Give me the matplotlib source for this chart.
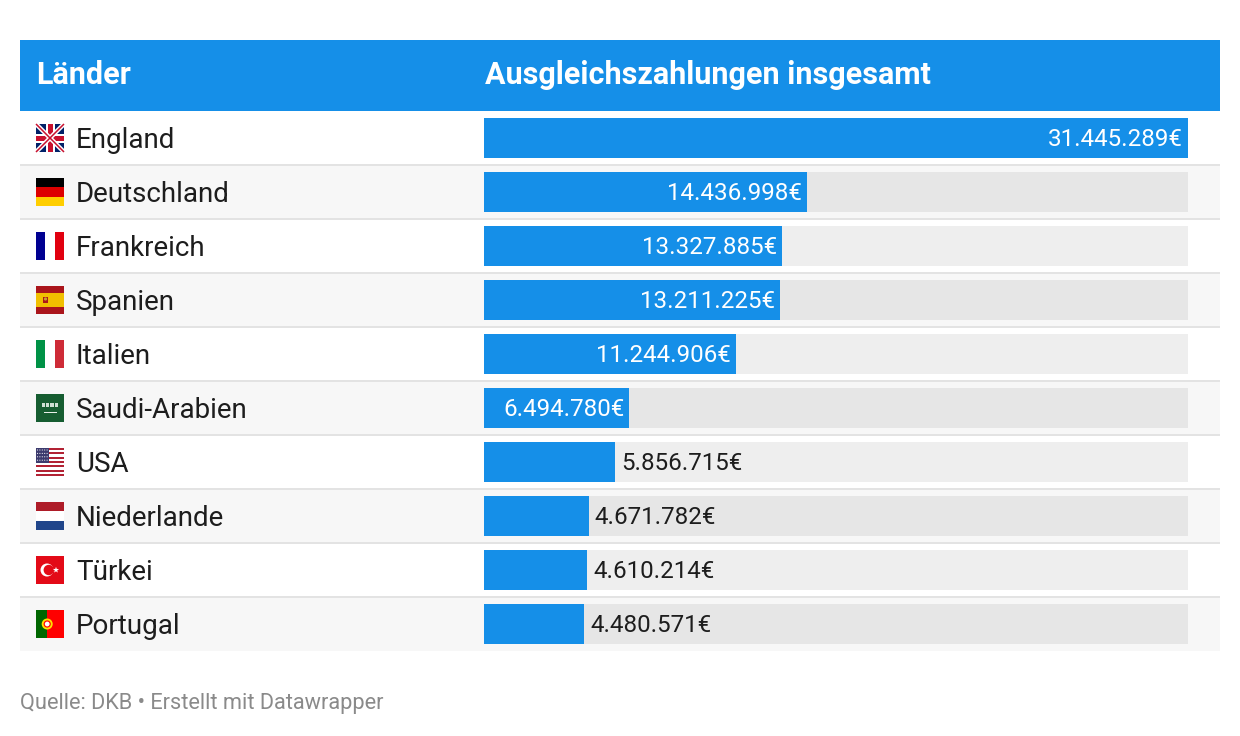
import matplotlib.pyplot as plt
from matplotlib.patches import Rectangle, Circle, Polygon
import numpy as np

plt.rcParams['font.family'] = ['Roboto', 'DejaVu Sans']

# --- data ---
countries = ['England', 'Deutschland', 'Frankreich', 'Spanien', 'Italien',
             'Saudi-Arabien', 'USA', 'Niederlande', 'Türkei', 'Portugal']
flags = ['gb', 'de', 'fr', 'es', 'it', 'sa', 'us', 'nl', 'tr', 'pt']
payments = [31445289, 14436998, 13327885, 13211225, 11244906,
            6494780, 5856715, 4671782, 4610214, 4480571]
col_country = 'Länder'
col_value = 'Ausgleichszahlungen insgesamt'
source = 'Quelle: DKB • Erstellt mit Datawrapper'

BLUE = '#158fe8'
DARK = '#1d1d1d'
W, H = 1240, 736
TOP = 111
ROW = 54

fig = plt.figure(figsize=(W / 100, H / 100), dpi=100)
bg = fig.add_axes([0, 0, 1, 1])
bg.set_xlim(0, W)
bg.set_ylim(H, 0)
bg.axis('off')

# header
bg.add_patch(Rectangle((20, 40), 1200, TOP - 40, color=BLUE, lw=0))
bg.text(36, 75, col_country, color='white', fontsize=22, fontweight='bold', va='center')
bg.text(485, 75, col_value, color='white', fontsize=22, fontweight='bold', va='center')


def draw_flag(kind, x, y, w=28, h=28):
    def rect(rx, ry, rw, rh, c):
        bg.add_patch(Rectangle((x + rx, y + ry), rw, rh, color=c, lw=0))

    if kind == 'gb':
        rect(0, 0, w, h, '#012169')
        bg.plot([x, x + w], [y, y + h], color='white', lw=3.2, solid_capstyle='butt')
        bg.plot([x, x + w], [y + h, y], color='white', lw=3.2, solid_capstyle='butt')
        bg.plot([x, x + w], [y, y + h], color='#c8102e', lw=1.1, solid_capstyle='butt')
        bg.plot([x, x + w], [y + h, y], color='#c8102e', lw=1.1, solid_capstyle='butt')
        rect(w / 2 - 4.5, 0, 9, h, 'white')
        rect(0, h / 2 - 4.5, w, 9, 'white')
        rect(w / 2 - 2.5, 0, 5, h, '#c8102e')
        rect(0, h / 2 - 2.5, w, 5, '#c8102e')
    elif kind == 'de':
        for k, c in enumerate(['#000000', '#dd0000', '#ffce00']):
            rect(0, k * h / 3, w, h / 3, c)
    elif kind == 'fr':
        for k, c in enumerate(['#000091', '#ffffff', '#e1000f']):
            rect(k * w / 3, 0, w / 3, h, c)
    elif kind == 'it':
        for k, c in enumerate(['#009246', '#ffffff', '#ce2b37']):
            rect(k * w / 3, 0, w / 3, h, c)
    elif kind == 'nl':
        for k, c in enumerate(['#ae1c28', '#ffffff', '#21468b']):
            rect(0, k * h / 3, w, h / 3, c)
    elif kind == 'es':
        rect(0, 0, w, h, '#aa151b')
        rect(0, h / 4, w, h / 2, '#f1bf00')
        rect(7, 11, 5, 6, '#ad1519')
        bg.add_patch(Circle((x + 9.5, y + 13), 1.6, color='#c8a032', lw=0))
    elif kind == 'sa':
        rect(0, 0, w, h, '#165d31')
        for k in range(4):
            rect(6 + k * 4.2, 9, 3.2, 3.5, '#cfe0d4')
        rect(8, 17.5, 13, 1.2, '#e8efe9')
    elif kind == 'us':
        for k in range(13):
            rect(0, k * h / 13, w, h / 13, '#b22234' if k % 2 == 0 else 'white')
        rect(0, 0, w * 0.45, h * 7 / 13, '#3c3b6e')
        for r in range(4):
            for c in range(5):
                bg.add_patch(Circle((x + 1.5 + c * 2.4, y + 2 + r * 3.4), 0.55,
                                    color='white', lw=0))
    elif kind == 'tr':
        rect(0, 0, w, h, '#e30a17')
        bg.add_patch(Circle((x + 11, y + h / 2), 6.5, color='white', lw=0))
        bg.add_patch(Circle((x + 12.8, y + h / 2), 5.2, color='#e30a17', lw=0))
        ang = np.linspace(-np.pi / 2, 1.5 * np.pi, 11)[:-1]
        rad = np.where(np.arange(10) % 2 == 0, 3.2, 1.3)
        pts = np.c_[x + 20 + rad * np.cos(ang), y + h / 2 + rad * np.sin(ang)]
        bg.add_patch(Polygon(pts, color='white', lw=0))
    elif kind == 'pt':
        rect(0, 0, w, h, '#ff0000')
        rect(0, 0, w * 0.4, h, '#006600')
        bg.add_patch(Circle((x + w * 0.4, y + h / 2), 5.5, color='#ffe000', lw=0))
        bg.add_patch(Circle((x + w * 0.4, y + h / 2), 3.6, color='#ff0000', lw=0))
        bg.add_patch(Circle((x + w * 0.4, y + h / 2), 2.4, color='white', lw=0))


# rows
for i, (name, fl) in enumerate(zip(countries, flags)):
    y0 = TOP + i * ROW
    fill = '#f7f7f7' if i % 2 else 'white'
    bg.add_patch(Rectangle((20, y0), 1200, ROW, color=fill, lw=0))
    if i > 0:
        bg.add_patch(Rectangle((20, y0 - 1), 1200, 2, color='#e3e3e3', lw=0))
    yc = y0 + ROW / 2
    draw_flag(fl, 36, yc - 14)
    bg.text(76, yc + 2.5, name, color=DARK, fontsize=20, va='center')

bg.text(20, 704, source, color='#8a8a8a', fontsize=15.7, va='center')

# bars
ax = fig.add_axes([484 / W, (H - TOP - ROW * len(countries)) / H,
                   704 / W, ROW * len(countries) / H])
ax.set_xlim(0, max(payments))
ax.set_ylim(len(countries) - 0.5, -0.5)
ax.axis('off')
ax.patch.set_alpha(0)
ypos = np.arange(len(countries))
track = ['#e6e6e6' if i % 2 else '#eeeeee' for i in ypos]
ax.barh(ypos, [max(payments)] * len(payments), height=40 / ROW, color=track, lw=0)
ax.barh(ypos, payments, height=40 / ROW, color=BLUE, lw=0)

for i, v in enumerate(payments):
    label = f'{v:,}'.replace(',', '.') + '€'
    if v / max(payments) * 704 > 140:
        ax.annotate(label, (v, i), xytext=(-3.6, -1.3), textcoords='offset points',
                    ha='right', va='center', color='white', fontsize=17.4)
    else:
        ax.annotate(label, (v, i), xytext=(4.3, -1.3), textcoords='offset points',
                    ha='left', va='center', color=DARK, fontsize=17.4)

fig.savefig('out.png', dpi=100)
